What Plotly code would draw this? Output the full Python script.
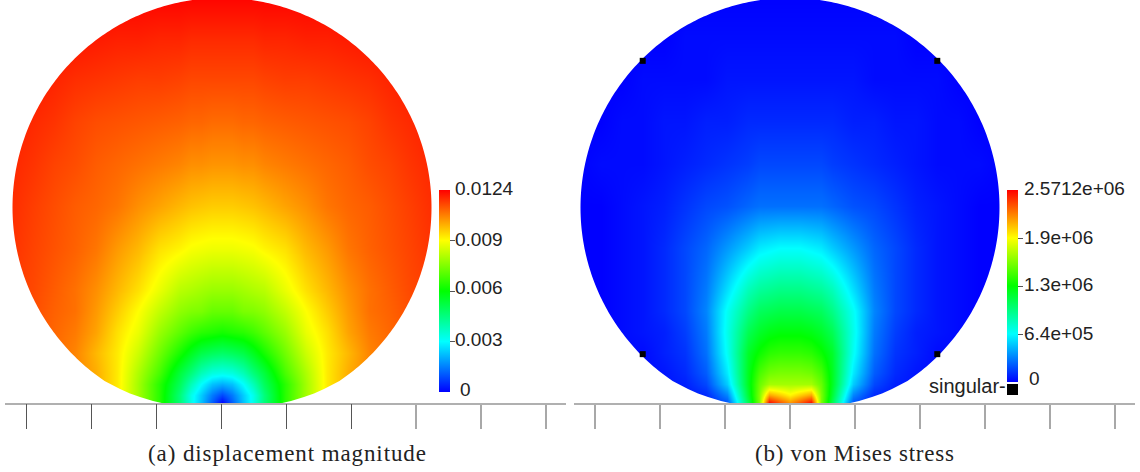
import math
import plotly.graph_objects as go

W, H = 1140, 472
R = 209.5
GROUND_PY, CENTER_PY = 403, 207.5

# half-disk sampling grid: distance from axis and height above the contact line (in px of the source)
grid_dx = [0, 10, 21, 31, 42, 63, 84, 105, 126, 147, 168, 189, 215]
grid_h = [0, 8, 19, 30, 50, 71, 92, 113, 155, 197, 239, 281, 323, 365, 410]

# displacement magnitude, as fraction of colour range
disp_rows = [
    [0.00, .09, .19, .27, .38, .54, .66, .77, .83, .87, .89, .915, .93],
    [.07, .12, .20, .27, .38, .54, .66, .77, .83, .87, .89, .915, .93],
    [.17, .19, .25, .32, .41, .54, .66, .77, .83, .87, .89, .915, .93],
    [.27, .28, .32, .38, .44, .57, .67, .77, .83, .87, .89, .915, .93],
    [.40, .41, .43, .47, .52, .61, .70, .77, .82, .87, .895, .915, .93],
    [.52, .53, .54, .56, .59, .65, .73, .78, .84, .88, .90, .92, .935],
    [.60, .60, .62, .625, .64, .69, .75, .80, .85, .89, .905, .925, .94],
    [.65, .65, .66, .67, .68, .73, .78, .82, .86, .89, .91, .93, .945],
    [.735, .735, .74, .745, .76, .78, .82, .85, .885, .905, .92, .935, .955],
    [.80, .80, .805, .81, .82, .84, .86, .885, .90, .91, .925, .94, .96],
    [.855, .855, .86, .86, .87, .88, .89, .90, .91, .925, .935, .95, .965],
    [.895, .895, .90, .90, .905, .91, .915, .92, .925, .935, .95, .96, .975],
    [.93, .93, .93, .93, .935, .94, .94, .945, .95, .955, .965, .975, .985],
    [.96, .96, .96, .96, .965, .965, .97, .97, .975, .98, .985, .99, 1.0],
    [1.0, 1.0, 1.0, 1.0, 1.0, 1.0, 1.0, 1.0, 1.0, 1.0, 1.0, 1.0, 1.0],
]
# von Mises stress, as fraction of colour range
stress_rows = [
    [.86, .92, 1.0, .62, .42, .08, .03, .01, 0, 0, 0, 0, 0],
    [.76, .80, .84, .62, .45, .13, .04, .02, .01, 0, 0, 0, 0],
    [.66, .66, .66, .60, .47, .20, .07, .03, .02, .01, 0, 0, 0],
    [.62, .62, .61, .57, .47, .23, .09, .04, .02, .01, 0, 0, 0],
    [.55, .55, .54, .51, .46, .26, .11, .05, .03, .01, .01, 0, 0],
    [.49, .49, .48, .46, .42, .27, .12, .06, .03, .02, .01, 0, 0],
    [.43, .43, .42, .41, .37, .26, .13, .07, .04, .02, .01, 0, 0],
    [.37, .37, .36, .35, .32, .22, .12, .07, .04, .02, .01, 0, 0],
    [.25, .25, .24, .23, .20, .15, .10, .07, .04, .02, .01, 0, 0],
    [.11, .11, .11, .11, .10, .08, .07, .05, .03, .02, .01, 0, 0],
    [.07, .07, .07, .07, .06, .05, .04, .03, .02, .01, .01, .01, 0],
    [.04, .04, .04, .04, .04, .03, .03, .02, .02, .01, .01, 0, 0],
    [.02, .02, .02, .02, .02, .02, .01, .01, .01, .01, 0, 0, 0],
    [.01, .01, .01, .01, .01, .01, .01, .01, 0, 0, 0, 0, 0],
    [0, 0, 0, 0, 0, 0, 0, 0, 0, 0, 0, 0, 0],
]

disp_max = 0.0124
stress_max = 2.5712e6
disp_ticks = [0.0031, 0.0062, 0.0093]
disp_ticktext = ["0.003", "0.006", "0.009"]
stress_ticks = [6.428e5, 1.2856e6, 1.9284e6]
stress_ticktext = ["6.4e+05", "1.3e+06", "1.9e+06"]
singular_nodes_u = [-0.703, 0.703, -0.703, 0.703]
singular_nodes_v = [0.70, 0.70, -0.70, -0.70]
left_dark_ticks = [-.9341, -.6238, -.3136, -.0033, .3070, .6172]
left_light_ticks = [.9275, 1.2377, 1.5480]
right_ticks = [-.9308, -.6205, -.3103, 0, .3103, .6205, .9308, 1.2411, 1.5513]

RAINBOW = [[0, "#0000ff"], [.25, "#00ffff"], [.5, "#00ff00"], [.75, "#ffff00"], [1, "#ff0000"]]
LABEL_FONT = dict(family="Liberation Sans", size=19, color="#222222")
SING_FONT = dict(family="Liberation Sans", size=20, color="#222222")
CAP_FONT = dict(family="Liberation Serif", size=23, color="#222222")


def v_of(py):
    return (CENTER_PY - py) / R


def mirrored(rows):
    return [list(reversed(r[1:])) + r for r in rows]


grid_u = [-d / R for d in reversed(grid_dx[1:])] + [d / R for d in grid_dx]
grid_v = [v_of(GROUND_PY - h) for h in grid_h]


def mask_path(ulo, uhi):
    vlo, vhi = v_of(GROUND_PY + 3), v_of(-6)
    us = [ulo, uhi, uhi, ulo, ulo, None]
    vs = [vhi, vhi, vlo, vlo, vhi, None]
    flat = [(102, 389), (92, 393.5), (82, 397), (69, 401), (56, 404), (56, 408)]
    for dx, py in reversed(flat):
        us.append(dx / R)
        vs.append(v_of(py))
    a0 = -math.asin(173.5 / R)
    a1 = math.pi - a0
    n = 360
    for i in range(n + 1):
        a = a0 + (a1 - a0) * i / n
        us.append(math.cos(a))
        vs.append(math.sin(a))
    for dx, py in flat:
        us.append(-dx / R)
        vs.append(v_of(py))
    return us, vs


def panel(fig, rows, vmax, axis, px0, px1, cx, bar_x, bar_top, bar_bot, ticks, tickvals):
    ulo, uhi = (px0 - cx) / R, (px1 - cx) / R
    xname, yname = ("x", "y") if axis == 1 else (f"x{axis}", f"y{axis}")
    bar = dict(
        x=bar_x / W, xanchor="left", xpad=0, thickness=11, thicknessmode="pixels",
        y=(H - bar_bot) / H, yanchor="bottom", ypad=0,
        len=(bar_bot - bar_top) / H, lenmode="fraction",
        outlinewidth=0, ticks="outside", ticklen=5, tickwidth=1, tickcolor="#555555",
        tickmode="array", tickvals=ticks, ticktext=[""] * len(ticks),
    )
    fig.add_trace(go.Heatmap(
        x=grid_u, y=grid_v, z=[[t * vmax for t in r] for r in mirrored(rows)],
        zmin=0, zmax=vmax, colorscale=RAINBOW, zsmooth="best", colorbar=bar,
        hoverinfo="skip", xaxis=xname, yaxis=yname,
    ))
    us, vs = mask_path(ulo, uhi)
    fig.add_trace(go.Scatter(
        x=us, y=vs, mode="lines", fill="toself", fillcolor="white",
        line=dict(width=0, color="white", simplify=False), hoverinfo="skip", showlegend=False,
        xaxis=xname, yaxis=yname,
    ))
    lay_x = dict(
        domain=[px0 / W, px1 / W], range=[ulo, uhi], showgrid=False, zeroline=False,
        showline=True, linecolor="#b0b0b0", linewidth=2,
        tickmode="array", tickvals=tickvals, ticktext=[""] * len(tickvals),
        ticks="outside", ticklen=24, tickwidth=2, tickcolor="#a8a8a8",
    )
    lay_y = dict(
        domain=[(H - GROUND_PY) / H, 1], range=[v_of(GROUND_PY), v_of(0)],
        visible=False, showgrid=False, zeroline=False,
    )
    suffix = "" if axis == 1 else str(axis)
    fig.update_layout({"xaxis" + suffix: lay_x, "yaxis" + suffix: lay_y})


fig = go.Figure()
panel(fig, disp_rows, disp_max, 1, 5, 566, 222, 439, 190, 392, disp_ticks, left_light_ticks)
panel(fig, stress_rows, stress_max, 2, 574, 1135, 790, 1007, 190, 382, stress_ticks, right_ticks)

fig.add_trace(go.Scatter(
    x=singular_nodes_u, y=singular_nodes_v, mode="markers",
    marker=dict(symbol="square", size=6, color="black"), hoverinfo="skip",
    showlegend=False, xaxis="x2", yaxis="y2",
))
# darker scale ticks of the left ruler live on an overlaying axis
fig.add_trace(go.Scatter(x=[None], y=[None], xaxis="x3", yaxis="y", showlegend=False, hoverinfo="skip"))
fig.update_layout(xaxis3=dict(
    overlaying="x", anchor="y", side="bottom", range=fig.layout.xaxis.range,
    domain=fig.layout.xaxis.domain, showgrid=False, zeroline=False, showline=False,
    tickmode="array", tickvals=left_dark_ticks, ticktext=[""] * len(left_dark_ticks),
    ticks="outside", ticklen=25, tickwidth=1, tickcolor="#555555",
))


def note(px, py, text, font=LABEL_FONT, anchor="left"):
    return dict(x=px / W, y=(H - py) / H, xref="paper", yref="paper", text=text, showarrow=False,
                xanchor=anchor, yanchor="middle", font=font, borderpad=0, borderwidth=0)


def spaced(text, px):
    return f'<span style="letter-spacing:{px}px">{text}</span>'


labels = [note(455, 188, "0.0124"), note(460, 389, "0"),
          note(1024, 188, "2.5712e+06"), note(1029, 378, "0"),
          note(1006, 386, "singular-", SING_FONT, anchor="right")]
labels += [note(455, py, t) for py, t in zip([339, 288, 239], disp_ticktext)]
labels += [note(1024, py, t) for py, t in zip([333, 284, 237], stress_ticktext)]

fig.update_layout(
    width=W, height=H, autosize=False, margin=dict(l=0, r=0, t=0, b=0),
    paper_bgcolor="white", plot_bgcolor="white", showlegend=False,
    annotations=labels + [
        note(287, 453, spaced("(a) displacement magnitude", 0.9), CAP_FONT, "center"),
        note(854.5, 453, spaced("(b) von Mises stress", 0.75), CAP_FONT, "center"),
    ],
    shapes=[dict(type="rect", xref="paper", yref="paper", x0=1007 / W, x1=1018 / W,
                 y0=(H - 395) / H, y1=(H - 384) / H, fillcolor="black", line=dict(width=0))],
)
fig.write_html("out.html", post_script="document.body.style.margin='0';",
               config={"displayModeBar": False})
